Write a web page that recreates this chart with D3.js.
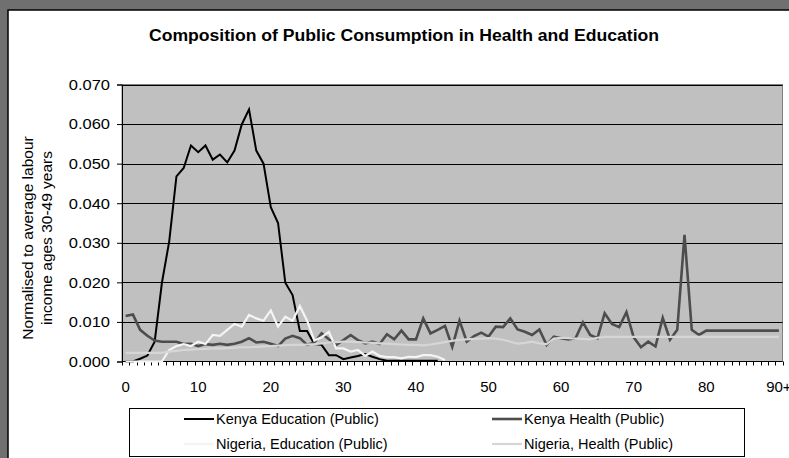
<!DOCTYPE html>
<html><head><meta charset="utf-8">
<script src="https://cdn.jsdelivr.net/npm/d3@7"></script>
<style>body{margin:0;background:#fff}svg{display:block}text{font-family:"Liberation Sans",Arial,sans-serif}</style>
</head><body>
<svg id="c" width="789" height="458"></svg>
<script>
// ---- data ----
const ageLabels = d3.range(0, 90).map(String).concat(["90+"]);
const tickLabels = ["0","10","20","30","40","50","60","70","80","90+"];
const yTicks = [0,0.01,0.02,0.03,0.04,0.05,0.06,0.07];
const seriesNames = ["Kenya Education (Public)","Kenya Health (Public)","Nigeria, Education (Public)","Nigeria, Health (Public)"];
const kenyaEducation = [0.0000,0.0000,0.0007,0.0015,0.0050,0.0199,0.0303,0.0468,0.0489,0.0546,
  0.0529,0.0546,0.0510,0.0523,0.0503,0.0533,0.0599,0.0637,0.0533,0.0500,
  0.0390,0.0350,0.0199,0.0168,0.0077,0.0077,0.0044,0.0042,0.0016,0.0016,
  0.0006,0.0010,0.0014,0.0019,0.0012,0.0006,0.0002,0.0002,0.0002,0.0002,
  0.0002,0.0002,0.0002,0.0002];
const kenyaHealth = [0.0115,0.0119,0.0080,0.0065,0.0053,0.0050,0.0050,0.0050,0.0044,0.0045,
  0.0039,0.0044,0.0042,0.0045,0.0042,0.0045,0.0050,0.0059,0.0048,0.0050,
  0.0045,0.0039,0.0058,0.0065,0.0059,0.0042,0.0048,0.0071,0.0056,0.0042,
  0.0054,0.0067,0.0054,0.0046,0.0050,0.0044,0.0069,0.0056,0.0078,0.0056,
  0.0056,0.0109,0.0071,0.0080,0.0090,0.0037,0.0103,0.0050,0.0064,0.0073,
  0.0063,0.0088,0.0087,0.0109,0.0081,0.0075,0.0067,0.0081,0.0042,0.0063,
  0.0059,0.0056,0.0059,0.0099,0.0067,0.0059,0.0122,0.0095,0.0087,0.0125,
  0.0061,0.0036,0.0050,0.0038,0.0110,0.0055,0.0080,0.0320,0.0080,0.0067,
  0.0078,0.0078,0.0078,0.0078,0.0078,0.0078,0.0078,0.0078,0.0078,0.0078,0.0078];
const nigeriaEducation = [0,0,0,0,0,0,0.0029,0.0039,0.0044,0.0039,
  0.0050,0.0044,0.0067,0.0065,0.0080,0.0095,0.0088,0.0118,0.0109,0.0103,
  0.0129,0.0088,0.0113,0.0103,0.0140,0.0103,0.0053,0.0061,0.0075,0.0033,
  0.0033,0.0025,0.0029,0.0014,0.0025,0.0014,0.0011,0.0011,0.0008,0.0012,
  0.0011,0.0016,0.0016,0.0012,0.0004];
const nigeriaHealth = [0.0022,0.0022,0.0022,0.0022,0.0022,0.0022,0.0025,0.0027,0.0029,0.0030,
  0.0031,0.0032,0.0033,0.0033,0.0034,0.0035,0.0036,0.0036,0.0037,0.0038,
  0.0039,0.0040,0.0041,0.0042,0.0042,0.0043,0.0044,0.0046,0.0048,0.0049,
  0.0050,0.0050,0.0049,0.0048,0.0047,0.0046,0.0045,0.0044,0.0043,0.0042,
  0.0042,0.0041,0.0043,0.0046,0.0049,0.0052,0.0055,0.0056,0.0057,0.0058,
  0.0059,0.0058,0.0055,0.0050,0.0045,0.0047,0.0050,0.0046,0.0044,0.0058,
  0.0060,0.0059,0.0058,0.0057,0.0056,0.0060,0.0062,0.0062,0.0062,0.0062,
  0.0062,0.0062,0.0062,0.0062,0.0062,0.0062,0.0062,0.0062,0.0062,0.0062,
  0.0062,0.0062,0.0062,0.0062,0.0062,0.0062,0.0062,0.0062,0.0062,0.0062,0.0062];

// ---- layout ----
const svg = d3.select("#c");
const W = 789, H = 458;
const L = 122, R = 782.5, T = 84.5, B = 361.5;

function stretch(sel, f) {
  sel.each(function(){ const n=this; const w=n.getComputedTextLength(); if (w>0) { n.setAttribute("textLength", (w*f).toFixed(1)); n.setAttribute("lengthAdjust","spacingAndGlyphs"); } });
}

// outer frame
svg.append("rect").attr("x",0).attr("y",0).attr("width",W).attr("height",H).attr("fill","#707070");
svg.append("rect").attr("x",8).attr("y",10).attr("width",W).attr("height",H).attr("fill","#fff")
  .attr("stroke","#000").attr("stroke-width",1.5);

const x = d3.scaleBand().domain(ageLabels).range([L, R]).paddingInner(0).paddingOuter(0);
const y = d3.scaleLinear().domain([0, 0.07]).range([B, T]);

// plot area
svg.append("rect").attr("x",L).attr("y",T).attr("width",R-L).attr("height",B-T)
  .attr("fill","#c0c0c0").attr("stroke","#808080").attr("stroke-width",1);

// gridlines
svg.append("g").selectAll("line").data(yTicks.filter(d=>d>0)).join("line")
  .attr("x1",L).attr("x2",R).attr("y1",d=>Math.round(y(d))+0.5).attr("y2",d=>Math.round(y(d))+0.5)
  .attr("stroke","#000").attr("stroke-width",1);

// y axis
const yAxis = d3.axisLeft(y).tickValues(yTicks).tickFormat(d3.format(".3f")).tickSize(5).tickPadding(7);
const gy = svg.append("g").attr("transform",`translate(${L},0)`).call(yAxis);
gy.select(".domain").attr("stroke","#000");
gy.selectAll("text").attr("font-size",15).attr("fill","#000").attr("font-family","Liberation Sans, Arial, sans-serif");
stretch(gy.selectAll("text"), 1.1);

// x axis: tick marks at category boundaries
const gx = svg.append("g").attr("transform",`translate(0,${B})`);
gx.append("line").attr("x1",L).attr("x2",R).attr("y1",0).attr("y2",0).attr("stroke","#000");
gx.selectAll("line.t").data(d3.range(0, ageLabels.length+1)).join("line").attr("class","t")
  .attr("x1",i=>Math.round(L + i*x.bandwidth())+0.5).attr("x2",i=>Math.round(L + i*x.bandwidth())+0.5)
  .attr("y1",0).attr("y2",4).attr("stroke","#000");
gx.selectAll("text").data(tickLabels).join("text")
  .attr("x",d=>x(d)+x.bandwidth()/2).attr("y",30).attr("text-anchor","middle")
  .attr("font-size",15).text(d=>d);

// lines
const lineGen = d3.line().x((d,i)=>x(ageLabels[i])+x.bandwidth()/2).y(d=>y(d));
const series = [
  {v:kenyaEducation, c:"#000000", w:2},
  {v:kenyaHealth, c:"#4d4d4d", w:2.6},
  {v:nigeriaEducation, c:"#f4f4f4", w:2.2},
  {v:nigeriaHealth, c:"#d6d6d6", w:2.2}
];
svg.append("g").selectAll("path").data(series).join("path")
  .attr("d",d=>lineGen(d.v)).attr("fill","none").attr("stroke",d=>d.c).attr("stroke-width",d=>d.w)
  .attr("stroke-linejoin","miter");

// title
svg.append("text").attr("x",404).attr("y",41).attr("text-anchor","middle")
  .attr("font-size",16).attr("font-weight","bold")
  .attr("textLength",510).attr("lengthAdjust","spacingAndGlyphs")
  .text("Composition of Public Consumption in Health and Education");

// y axis title
const yt = svg.append("text").attr("transform","translate(0,238) rotate(-90)").attr("text-anchor","middle").attr("font-size",15.5);
yt.append("tspan").attr("x",0).attr("y",33).text("Normalised to average labour");
yt.append("tspan").attr("x",0).attr("y",52).text("income ages 30-49 years");

// legend
svg.append("rect").attr("x",129.5).attr("y",408.5).attr("width",615).attr("height",48).attr("fill","#fff").attr("stroke","#000");
const legPos = [[184,419],[492,419],[184,444],[492,444]];
const lg = svg.append("g").selectAll("g").data(series).join("g")
  .attr("transform",(d,i)=>`translate(${legPos[i][0]},${legPos[i][1]})`);
lg.append("line").attr("x1",0).attr("x2",30).attr("y1",0).attr("y2",0).attr("stroke",d=>d.c).attr("stroke-width",d=>d.w);
lg.append("text").attr("x",32).attr("y",5).attr("font-size",14.5).text((d,i)=>seriesNames[i]);
</script>
</body></html>
